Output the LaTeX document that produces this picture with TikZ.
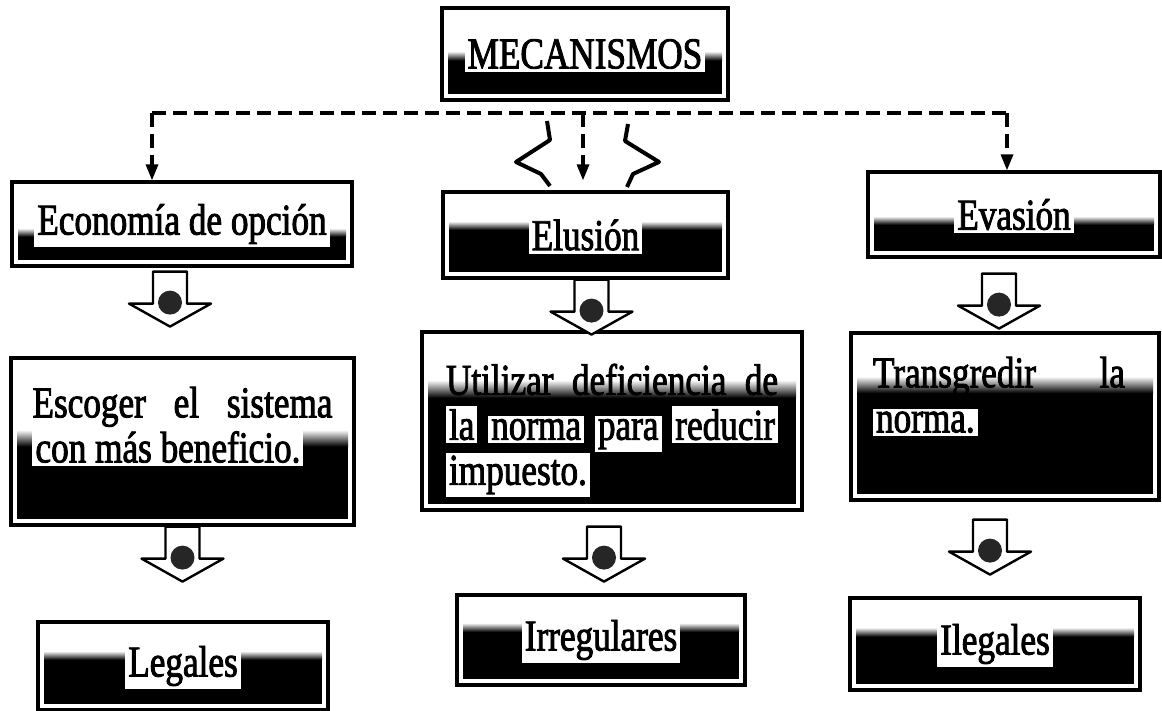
\documentclass[tikz,border=0pt]{standalone}
\usepackage{fontspec}
\setmainfont{Liberation Serif}[FakeStretch=0.8,FakeBold=2]
\usetikzlibrary{arrows.meta,positioning,calc}
\newcommand{\halo}[1]{{\setlength{\fboxsep}{1.5pt}\colorbox{white}{#1}}}
\tikzset{
  box/.style={draw, line width=1.6pt, fill=white, inner sep=0pt,
    path picture={
      \fill[black] ($(path picture bounding box.south west)+(3pt,3pt)$)
        rectangle ($(path picture bounding box.south east)!#1!(path picture bounding box.north east)+(-3pt,0)$);
      \shade[top color=white, bottom color=black]
        ($(path picture bounding box.south west)!#1!(path picture bounding box.north west)+(3pt,0)$)
        rectangle ($(path picture bounding box.south east)!{#1+0.1}!(path picture bounding box.north east)+(-3pt,0)$);
    }},
  txt/.style={inner sep=0pt, align=justify},
  busline/.style={line width=1.6pt, dash pattern=on 7pt off 3.5pt},
  blockarr/.pic={
    \draw[fill=white, line width=1.2pt, line join=round]
      (-17,0) -- (-17,32) -- (-41,32) -- (0,55) -- (41,32) -- (17,32) -- (17,0) -- cycle;
    \fill[black!85] (0,31) circle (12);
  }
}
\begin{document}
\begin{tikzpicture}[x=0.5pt, y=-0.5pt, font=\fontsize{22}{22.5}\selectfont, >={Triangle[width=6pt,length=8pt]}]
  \useasboundingbox (0,0) rectangle (1162,711);
  % top box
  \node[box=0.43, minimum width=143pt, minimum height=46pt] (mec) at (585,54) {\halo{MECANISMOS}};
  % first row
  \node[box=0.35, minimum width=170pt, minimum height=42pt] (eco) at (182,224) {\halo{Economía de opción}};
  \node[box=0.56, minimum width=142.5pt, minimum height=43pt] (elu) at (585.5,235) {\halo{Elusión}};
  \node[box=0.38, minimum width=146pt, minimum height=42.5pt] (eva) at (1014,214.5) {\halo{Evasión}};
  % second row
  \node[box=0.47, minimum width=171.5pt, minimum height=83.5pt] (esc) at (182.5,441.5) {};
  \node[txt, text width=150pt, below=15pt of esc.north] (esctxt) {Escoger el sistema\linebreak \halo{con más beneficio.}};
  \node[box=0.63, minimum width=190pt, minimum height=89pt] (uti) at (612,421) {};
  \node[txt, text width=166pt, below=16.5pt of uti.north] (utitxt) {Utilizar deficiencia de\linebreak \halo{la} \halo{norma} \halo{para} \halo{reducir}\linebreak \halo{impuesto.}};
  \node[box=0.64, minimum width=154pt, minimum height=83.5pt] (tra) at (1005,416.5) {};
  \node[txt, text width=126pt, below=12.5pt of tra.north, xshift=-3pt] (tratxt) {Transgredir la\linebreak \halo{norma.}};
  % third row
  \node[box=0.57, minimum width=145pt, minimum height=44pt] (leg) at (183,666) {\halo{Legales}};
  \node[box=0.59, minimum width=144pt, minimum height=45pt] (irr) at (601,640) {\halo{Irregulares}};
  \node[box=0.58, minimum width=145pt, minimum height=46pt] (ile) at (995,644) {\halo{Ilegales}};
  % dashed branches
  \coordinate (busL) at (152,113);
  \coordinate (busM) at (583,113);
  \coordinate (busR) at (1007,113);
  \draw[busline] (busL) -- (busR);
  \draw[busline,->] (busL) -- (busL |- eco.north);
  \draw[busline,->,shorten >=5pt] (busM) -- (busM |- elu.north);
  \draw[busline,->] (busR) -- (busR |- eva.north);
  \draw[line width=2pt, line join=round] (547,121) -- (550,140) -- (516,162) -- (541,174) -- (550,186);
  \draw[line width=2pt, line join=round] (628,124) -- (625,141) -- (659,162) -- (633,174) -- (627,187);
  % block arrows
  \pic at ([shift={(-12,4)}]eco.south) {blockarr};
  \pic at (esc.south) {blockarr};
  \pic at ([shift={(6,0)}]elu.south) {blockarr};
  \pic at ([shift={(-8,15)}]uti.south) {blockarr};
  \pic at ([shift={(-15,15)}]eva.south) {blockarr};
  \pic at ([shift={(-15,18)}]tra.south) {blockarr};
\end{tikzpicture}
\end{document}
